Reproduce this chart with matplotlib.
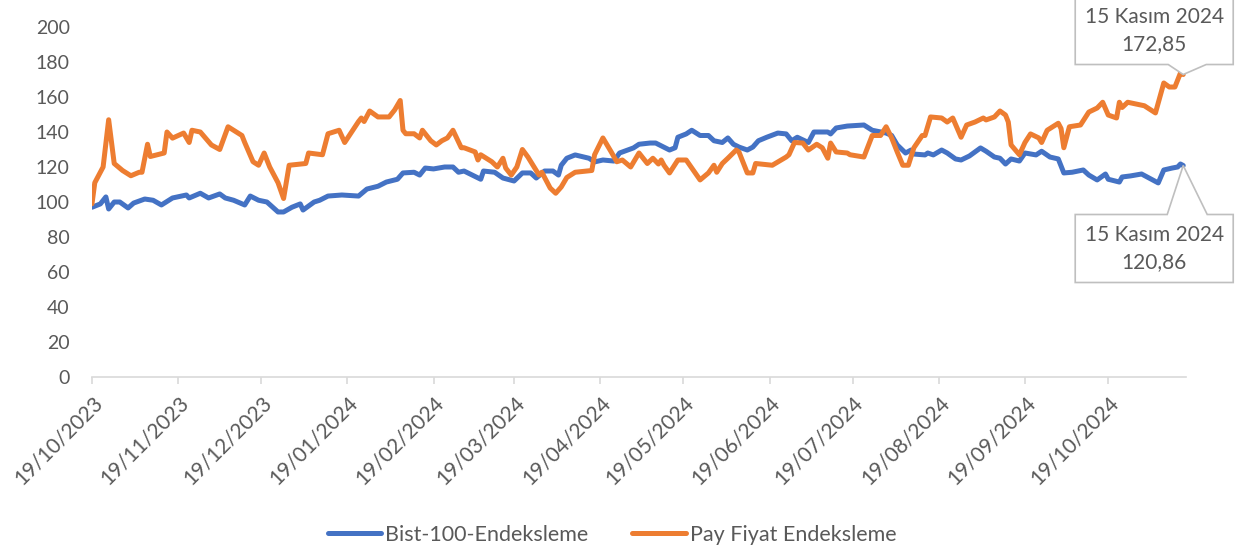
import matplotlib
matplotlib.use('Agg')
import matplotlib.pyplot as plt
import matplotlib.dates as mdates
from matplotlib.patches import Polygon
from matplotlib.transforms import IdentityTransform
import pandas as pd

plt.rcParams['font.family'] = ['Lato', 'DejaVu Sans']

GRI = '#595959'
CIZGI = '#D9D9D9'
MAVI = '#4472C4'
TURUNCU = '#ED7D31'

#--------------------------------------------------------------------------------------
# Bist-100 endeksleme (okunan degerler)
bist_tarih = [
  "2023-10-19", "2023-10-22", "2023-10-24", "2023-10-25", "2023-10-27", "2023-10-29", "2023-11-01", "2023-11-03",
  "2023-11-07", "2023-11-10", "2023-11-13", "2023-11-17", "2023-11-22", "2023-11-23", "2023-11-27", "2023-11-30",
  "2023-12-04", "2023-12-06", "2023-12-09", "2023-12-13", "2023-12-15", "2023-12-18", "2023-12-21", "2023-12-25",
  "2023-12-27", "2023-12-30",
  "2024-01-02", "2024-01-03", "2024-01-07", "2024-01-09", "2024-01-12", "2024-01-17", "2024-01-23", "2024-01-26",
  "2024-01-30", "2024-02-02", "2024-02-06", "2024-02-08", "2024-02-12", "2024-02-14", "2024-02-16", "2024-02-19",
  "2024-02-23", "2024-02-26", "2024-02-28", "2024-03-01", "2024-03-07", "2024-03-08", "2024-03-12", "2024-03-15",
  "2024-03-19", "2024-03-22", "2024-03-25", "2024-03-27", "2024-03-30",
  "2024-04-02", "2024-04-04", "2024-04-05", "2024-04-07", "2024-04-10", "2024-04-15", "2024-04-17", "2024-04-20",
  "2024-04-24", "2024-04-26", "2024-04-29", "2024-05-01", "2024-05-03", "2024-05-07", "2024-05-09", "2024-05-14",
  "2024-05-16", "2024-05-17", "2024-05-20", "2024-05-22", "2024-05-25", "2024-05-28", "2024-05-30",
  "2024-06-02", "2024-06-04", "2024-06-06", "2024-06-08", "2024-06-11", "2024-06-13", "2024-06-15", "2024-06-18",
  "2024-06-22", "2024-06-25", "2024-06-27", "2024-06-29", "2024-07-03", "2024-07-05", "2024-07-10", "2024-07-11",
  "2024-07-13", "2024-07-17", "2024-07-23", "2024-07-26", "2024-07-31",
  "2024-08-02", "2024-08-04", "2024-08-07", "2024-08-09", "2024-08-10", "2024-08-14", "2024-08-15", "2024-08-17",
  "2024-08-20", "2024-08-22", "2024-08-25", "2024-08-27", "2024-08-30", "2024-09-03", "2024-09-05", "2024-09-08",
  "2024-09-10", "2024-09-12", "2024-09-14", "2024-09-17", "2024-09-19", "2024-09-23", "2024-09-25", "2024-09-28",
  "2024-10-01", "2024-10-03", "2024-10-06", "2024-10-10", "2024-10-12", "2024-10-15", "2024-10-18", "2024-10-19",
  "2024-10-23", "2024-10-24", "2024-10-27", "2024-10-31", "2024-11-02", "2024-11-06", "2024-11-08", "2024-11-11",
  "2024-11-13", "2024-11-14", "2024-11-15"]
bist_deger = [
  97, 98.9, 102.9, 96, 100, 100, 96.6, 99.4, 101.7, 101, 98.3, 102.3, 104, 102.3, 105, 102.3,
  104.6, 102.3, 101, 98.3, 103.4, 101, 100, 94.3, 94.3, 97,
  98.9, 95.4, 100, 101, 103.4, 104, 103.4, 107.4, 109, 111.4, 113, 116.6, 117, 115.4, 119.4, 118.9,
  120, 120, 117, 117.7, 113, 117.7, 117, 113.7, 112, 116.6, 116.6, 113.7, 117.7,
  117.7, 115.4, 121, 125, 126.9, 125, 122.9, 124, 123.4, 128, 129.7, 130.9, 133, 133.7, 133.7, 129.7,
  131, 137, 138.9, 141, 138, 138, 135,
  134, 136.6, 133, 131.4, 129.7, 131.4, 135, 137, 139.4, 138.9, 135, 137, 134, 140, 140, 138.9,
  142.3, 143.4, 144, 141, 139.4,
  138, 132.6, 128, 129.7, 127.4, 126.9, 128, 126.9, 129.7, 128, 124.6, 124, 126.3, 130.9, 129, 125.7,
  125, 121.7, 124.6, 123.4, 128, 126.9, 129, 125.7,
  124.6, 116.6, 117, 118.3, 115.4, 112.6, 116, 113, 111.4, 114.3, 114.9, 116, 114.3, 110.9, 118.3, 119.4,
  120, 121.7, 120.86]

#--------------------------------------------------------------------------------------
# Pay fiyat endeksleme (okunan degerler)
pay_tarih = [
  "2023-10-19", "2023-10-20", "2023-10-23", "2023-10-25", "2023-10-27", "2023-10-30", "2023-11-02", "2023-11-05",
  "2023-11-06", "2023-11-08", "2023-11-09", "2023-11-14", "2023-11-15", "2023-11-17", "2023-11-21", "2023-11-23",
  "2023-11-24", "2023-11-27", "2023-12-01", "2023-12-04", "2023-12-07", "2023-12-12", "2023-12-13", "2023-12-16",
  "2023-12-18", "2023-12-20", "2023-12-22", "2023-12-25", "2023-12-27", "2023-12-29",
  "2024-01-04", "2024-01-05", "2024-01-10", "2024-01-12", "2024-01-16", "2024-01-18", "2024-01-23", "2024-01-24",
  "2024-01-25", "2024-01-27", "2024-01-30", "2024-02-03", "2024-02-05", "2024-02-07", "2024-02-08", "2024-02-09",
  "2024-02-12", "2024-02-14", "2024-02-15", "2024-02-18", "2024-02-20", "2024-02-22", "2024-02-24", "2024-02-26",
  "2024-02-29", "2024-03-01", "2024-03-05", "2024-03-06", "2024-03-07", "2024-03-11", "2024-03-13", "2024-03-15",
  "2024-03-16", "2024-03-18", "2024-03-20", "2024-03-22", "2024-03-24", "2024-03-27", "2024-03-28", "2024-03-29",
  "2024-04-01", "2024-04-03", "2024-04-05", "2024-04-07", "2024-04-10", "2024-04-16", "2024-04-17", "2024-04-20",
  "2024-04-23", "2024-04-25", "2024-04-27", "2024-04-30", "2024-05-03", "2024-05-06", "2024-05-08", "2024-05-10",
  "2024-05-11", "2024-05-12", "2024-05-14", "2024-05-17", "2024-05-20", "2024-05-25", "2024-05-28", "2024-05-30",
  "2024-05-31",
  "2024-06-02", "2024-06-04", "2024-06-07", "2024-06-08", "2024-06-11", "2024-06-13", "2024-06-14", "2024-06-20",
  "2024-06-25", "2024-06-26", "2024-06-28", "2024-07-01", "2024-07-03", "2024-07-06", "2024-07-08", "2024-07-10",
  "2024-07-11", "2024-07-13", "2024-07-17", "2024-07-18", "2024-07-23", "2024-07-26", "2024-07-29", "2024-07-31",
  "2024-08-02", "2024-08-04", "2024-08-06", "2024-08-08", "2024-08-10", "2024-08-13", "2024-08-14", "2024-08-16",
  "2024-08-20", "2024-08-22", "2024-08-24", "2024-08-27", "2024-08-29", "2024-09-01", "2024-09-04", "2024-09-05",
  "2024-09-08", "2024-09-10", "2024-09-12", "2024-09-13", "2024-09-14", "2024-09-17", "2024-09-19", "2024-09-21",
  "2024-09-24", "2024-09-25", "2024-09-27",
  "2024-10-01", "2024-10-02", "2024-10-03", "2024-10-05", "2024-10-09", "2024-10-12", "2024-10-15", "2024-10-17",
  "2024-10-19", "2024-10-22", "2024-10-23", "2024-10-24", "2024-10-26", "2024-11-01", "2024-11-05", "2024-11-06",
  "2024-11-08", "2024-11-10", "2024-11-12", "2024-11-14", "2024-11-15"]
pay_deger = [
  99, 111, 120, 147, 122, 118, 115, 117, 117, 133, 126, 128, 140, 136.5, 139.4, 134,
  141, 140, 132.6, 130, 143, 138, 134, 123, 121, 128, 120, 111, 102, 121,
  122, 128, 127, 139, 141, 134, 146, 148, 146, 152, 148.6, 148.6, 152.6, 158, 141, 139,
  139, 136.6, 141, 135, 132.6, 135, 136.6, 141, 131, 131, 128.6, 124, 127, 123, 120, 125,
  119.4, 115.4, 120, 130, 125.7, 118, 115.4, 117,
  108, 105, 108.6, 114, 117, 118, 127, 136.6, 128.6, 123, 124, 120, 128, 122, 125, 121.7,
  124, 121, 116.6, 124, 124, 112.6, 116.6, 121, 117,
  122, 125, 129.7, 128.6, 116.6, 116.6, 122, 121, 125.7, 127, 134, 133.7, 129.7, 133, 131, 125,
  133.7, 128.6, 128, 127, 125.7, 138, 138, 143,
  136.6, 128.6, 121, 121, 131, 138, 138, 148.6, 148, 145.7, 148, 137, 144, 145.7, 148, 146.9,
  148.6, 152, 149.7, 145.7, 132.6, 127, 134, 138.9, 136.6, 134, 141,
  145, 142, 131, 143, 144, 151.4, 153.7, 157, 149.7, 148, 157, 154, 157, 155, 150.9, 156.6,
  168, 165.7, 165.7, 173.7, 172.85]

seri_adlari = ['Bist-100-Endeksleme', 'Pay Fiyat Endeksleme']
son_tarih = "2024-11-15"
etiket_tarih = "15 Kasım 2024"
yticks = list(range(0, 201, 20))
xticks = [pd.Timestamp(2023, 10, 19) + pd.DateOffset(months=i) for i in range(13)]

#--------------------------------------------------------------------------------------
fig = plt.figure(figsize=(12.44, 5.56), dpi=100)
ax = fig.add_axes([92/1244, 1-377/556, 1094/1244, 350/556])

ax.plot(pd.to_datetime(bist_tarih), bist_deger, color=MAVI, lw=3.6, label=seri_adlari[0],
        solid_joinstyle='round', solid_capstyle='round')
ax.plot(pd.to_datetime(pay_tarih), pay_deger, color=TURUNCU, lw=3.6, label=seri_adlari[1],
        solid_joinstyle='round', solid_capstyle='round')

ax.set_ylim(0, 200)
ax.set_yticks(yticks)
ax.set_xlim(pd.Timestamp('2023-10-19'), pd.Timestamp('2024-11-16'))
ax.set_xticks(xticks)
ax.xaxis.set_major_formatter(mdates.DateFormatter('%d/%m/%Y'))

for s in ['top', 'right', 'left']:
  ax.spines[s].set_visible(False)
ax.spines['bottom'].set_color(CIZGI)
ax.spines['bottom'].set_linewidth(1.2)
ax.tick_params(axis='y', length=0, pad=16, labelsize=14, labelcolor=GRI)
ax.tick_params(axis='x', length=5, width=1.2, color=CIZGI, pad=6, labelsize=15, labelcolor=GRI)
for lbl in ax.get_xticklabels():
  lbl.set_rotation(45)
  lbl.set_ha('right')
  lbl.set_rotation_mode('anchor')

#--------------------------------------------------------------------------------------
def callout(tarih, deger, yukari, metin):
  tx, ty = ax.transData.transform((mdates.date2num(pd.Timestamp(tarih)), deger))
  x0, x1 = tx-108, tx+50
  if yukari:
    yb = ty+10
    yt = yb+68
    pts = [(x0, yb), (tx-15, yb), (tx, ty), (tx+23, yb), (x1, yb), (x1, yt), (x0, yt)]
  else:
    yt = ty-49
    yb = yt-68
    pts = [(x0, yt), (x0, yb), (x1, yb), (x1, yt), (tx+24, yt), (tx, ty), (tx-16, yt)]
  fig.add_artist(Polygon(pts, closed=True, transform=IdentityTransform(),
                         facecolor='white', edgecolor='#BFBFBF', lw=1.2))
  fig.text((x0+x1)/2, (yb+yt)/2, metin, transform=IdentityTransform(), ha='center', va='center',
           fontsize=15, color=GRI, linespacing=1.4)

callout(son_tarih, pay_deger[-1], True, etiket_tarih + "\n" + f"{pay_deger[-1]:.2f}".replace('.', ','))
callout(son_tarih, bist_deger[-1], False, etiket_tarih + "\n" + f"{bist_deger[-1]:.2f}".replace('.', ','))

fig.legend(loc='center', bbox_to_anchor=(0.492, 0.038), ncol=2, frameon=False, fontsize=15.5,
           handlelength=2.47, handletextpad=0.19, columnspacing=2.05, labelcolor=GRI)

fig.savefig('out.png', dpi=100)
